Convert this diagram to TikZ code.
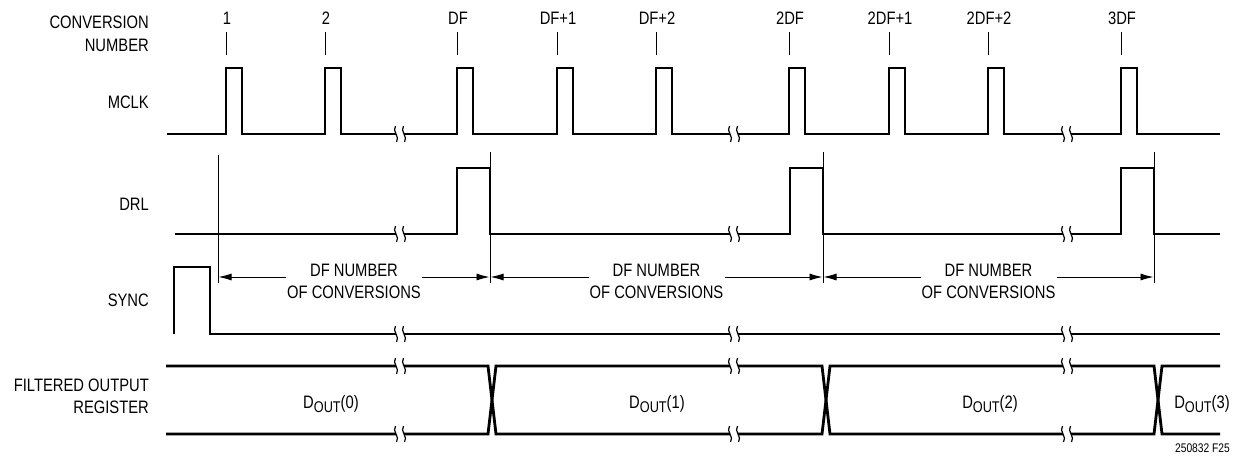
\documentclass[tikz,border=0pt]{standalone}
\usepackage{fontspec}
\setmainfont[FakeStretch=0.82]{Liberation Sans}
\usetikzlibrary{arrows.meta}
\tikzset{
  sig/.style={line width=2.8pt, line join=miter},
  thinln/.style={line width=0.9pt},
  dimarrow/.style={line width=0.9pt, -{Latex[length=13pt,width=7pt]}},
  wave/.style={line width=1.2pt},
  lbl/.style={font=\fontsize{18}{18}\selectfont, inner sep=0pt, anchor=base east},
  toplbl/.style={font=\fontsize{18}{18}\selectfont, inner sep=0pt, anchor=base},
  midlbl/.style={font=\fontsize{18}{18}\selectfont, inner sep=0pt, anchor=base},
}
\newcommand\brkmark[2]{%
  \fill[white] (#1-3.6,#2-2.2) rectangle (#1+3.6,#2+2.2);
  \draw[wave] (#1-4.5,#2-8) .. controls (#1-8.5,#2-3) and (#1+0.5,#2+3) .. (#1-3.5,#2+8);
  \draw[wave] (#1+3.5,#2-8) .. controls (#1-0.5,#2-3) and (#1+8.5,#2+3) .. (#1+4.5,#2+8);
}
\newcommand\dout[1]{D\raisebox{-4pt}{\fontsize{15.5}{15.5}\selectfont OUT}(#1)}
\begin{document}
\begin{tikzpicture}[x=1pt,y=-1pt]
\useasboundingbox (0,0) rectangle (1241,456);

% left labels
\node[lbl] (lconv) at (149,28) {CONVERSION};
\node[lbl] (lnum) at (149,51) {NUMBER};
\node[lbl] (lmclk) at (149,108) {MCLK};
\node[lbl] (ldrl) at (149,210) {DRL};
\node[lbl] (lsync) at (149,306.5) {SYNC};
\node[lbl] (lfilt) at (149,391.5) {FILTERED OUTPUT};
\node[lbl] (lreg) at (149,413.5) {REGISTER};

% conversion numbers and ticks
\foreach \r/\t [count=\i] in {226/1,325/2,457/DF,557/DF+1,656/DF+2,789/2DF,889/2DF+1,988/2DF+2,1121/3DF}{
  \node[toplbl] (cn\i) at (\r+1,24) {\t};
  \draw[thinln] (\r,32) -- (\r,55);
}

% MCLK
\draw[sig] (167,134) foreach \r in {226,325,457,557,656,789,889,988,1121}{
  -- (\r,134) -- (\r,68) -- (\r+16,68) -- (\r+16,134) } -- (1220,134);
\foreach \b in {400,734,1067}{\brkmark{\b}{134}}

% DRL
\draw[sig] (175,234) -- (457,234) -- (457,168) -- (490,168) -- (490,234)
  -- (790,234) -- (790,168) -- (823,168) -- (823,234)
  -- (1121,234) -- (1121,168) -- (1154,168) -- (1154,234) -- (1220,234);
\foreach \b in {400,734,1067}{\brkmark{\b}{234}}

% reference lines
\draw[thinln] (218,155) -- (218,283);
\draw[thinln] (490,152) -- (490,283);
\draw[thinln] (823,152) -- (823,283);
\draw[thinln] (1154,152) -- (1154,283);

% dimension arrows
\foreach \a/\b [count=\i] in {218/490,490/823,823/1154}{
  \coordinate (ml\i) at ({(\a+\b)/2-68},277);
  \coordinate (mr\i) at ({(\a+\b)/2+68},277);
  \coordinate (el\i) at (\a+0.5,277);
  \coordinate (er\i) at (\b-0.5,277);
  \draw[dimarrow] (ml\i) -- (el\i);
  \draw[dimarrow] (mr\i) -- (er\i);
  \node[midlbl] (dfa\i) at ({(\a+\b)/2},276) {DF NUMBER};
  \node[midlbl] (dfb\i) at ({(\a+\b)/2},298) {OF CONVERSIONS};
}

% SYNC
\draw[sig] (174,334) -- (174,267) -- (210,267) -- (210,334) -- (1220,334);
\foreach \b in {400,734,1067}{\brkmark{\b}{334}}

% filtered output register bus
\draw[sig] (166,366) -- (488,366) -- (496,434) -- (822,434) -- (830,366)
  -- (1154,366) -- (1162,434) -- (1220,434);
\draw[sig] (166,434) -- (488,434) -- (496,366) -- (822,366) -- (830,434)
  -- (1154,434) -- (1162,366) -- (1220,366);
\foreach \b in {400,734,1067}{\brkmark{\b}{366}\brkmark{\b}{434}}

\node[midlbl] (d0) at (331,408.5) {\dout{0}};
\node[midlbl] (d1) at (657,408.5) {\dout{1}};
\node[midlbl] (d2) at (990,408.5) {\dout{2}};
\node[midlbl] (d3) at (1202,408.5) {\dout{3}};

\node[font=\fontsize{12.5}{12.5}\selectfont, inner sep=0pt, anchor=base east] (fig) at (1230,452) {250832 F25};
\end{tikzpicture}
\end{document}
